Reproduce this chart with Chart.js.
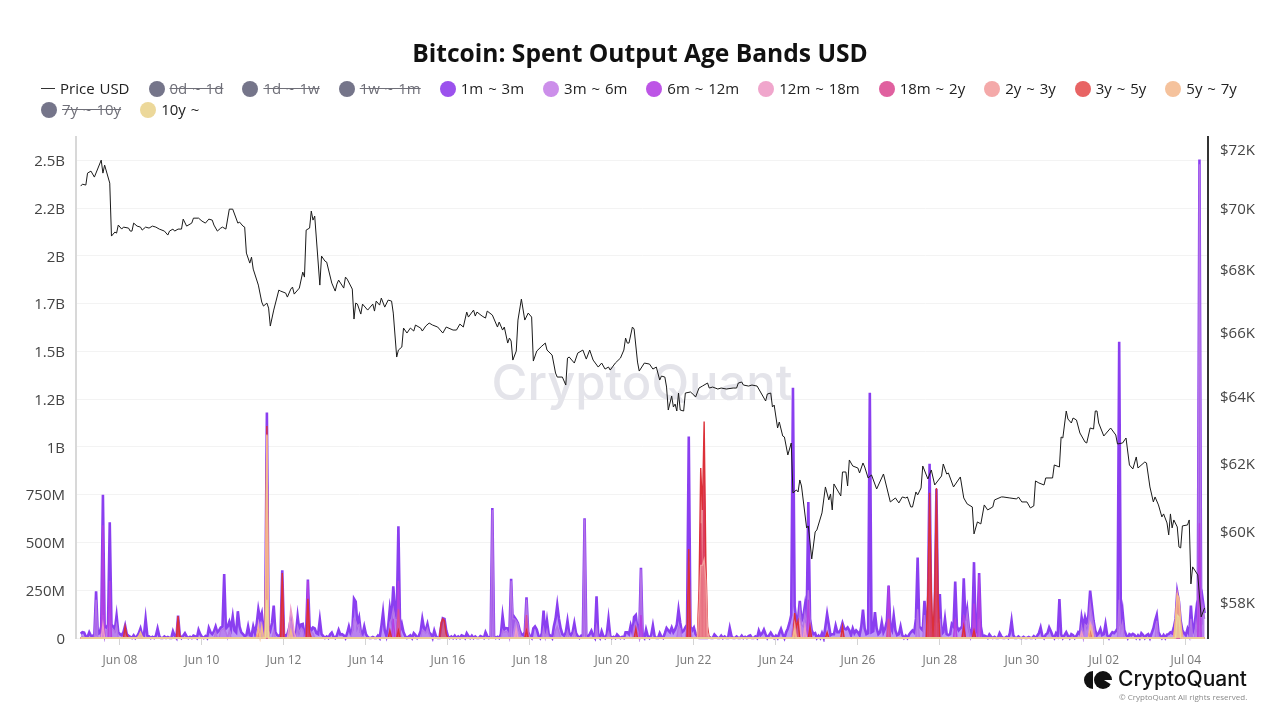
<!DOCTYPE html>
<html>
<head>
<meta charset="utf-8">
<title>Bitcoin: Spent Output Age Bands USD</title>
<script src="https://cdn.jsdelivr.net/npm/chart.js@4"></script>
<style>
  html, body { margin: 0; padding: 0; background: #fff; }
  #wrap { position: relative; width: 1280px; height: 720px; overflow: hidden; }
  #legend {
    position: absolute; left: 41px; top: 78px; width: 1225px;
    display: flex; flex-wrap: wrap; column-gap: 19px;
    font: 15px/21px "Open Sans", sans-serif; word-spacing: 1px; color: #222;
  }
  .item { display: flex; align-items: center; height: 21px; white-space: nowrap; }
  .dot { width: 16px; height: 16px; border-radius: 50%; margin-right: 5px; }
  .dash { width: 14px; height: 1px; background: #333; margin-right: 5px; }
  .off { color: #6f6f78; text-decoration: line-through; }
</style>
</head>
<body>
<div id="wrap">
  <canvas id="chart1" width="1280" height="720"></canvas>
  <div id="legend"></div>
</div>
<script>
// hours are counted from Jun 07 00:00, band values are USD millions
const xTickHours = [24, 72, 120, 168, 216, 264, 312, 360, 408, 456, 504, 552, 600, 648];
const xTickLabels = ['Jun 08', 'Jun 10', 'Jun 12', 'Jun 14', 'Jun 16', 'Jun 18', 'Jun 20', 'Jun 22', 'Jun 24', 'Jun 26', 'Jun 28', 'Jun 30', 'Jul 02', 'Jul 04'];
const yTickValues = [0, 250, 500, 750, 1000, 1250, 1500, 1750, 2000, 2250, 2500];
const yTickLabels = ['0', '250M', '500M', '750M', '1B', '1.2B', '1.5B', '1.7B', '2B', '2.2B', '2.5B'];
const priceTickValues = [58000, 60000, 62000, 64000, 66000, 68000, 70000, 72000];
const priceTickLabels = ['$58K', '$60K', '$62K', '$64K', '$66K', '$68K', '$70K', '$72K'];

const priceUsd = [[1,70775],[2,70840],[4,70810],[5,71215],[7,71283],[9,71080],[13,71657],[14,71215],[15,71487],[18,70875],[19,69106],[21,69238],[22,69205],[23,69470],[25,69337],[26,69403],[29,69370],[30,69271],[31,69271],[32,69535],[34,69436],[36,69403],[37,69304],[39,69403],[41,69370],[43,69436],[45,69403],[47,69337],[50,69271],[52,69139],[53,69271],[55,69337],[56,69271],[58,69337],[60,69337],[61,69668],[63,69436],[66,69535],[67,69700],[70,69700],[72,69602],[74,69535],[76,69668],[78,69635],[79,69470],[81,69271],[83,69370],[84,69403],[86,69337],[88,70000],[90,70000],[93,69535],[94,69569],[96,69436],[97,69403],[98,68547],[100,68220],[101,68415],[102,68025],[105,67508],[107,66962],[108,66835],[110,66930],[111,66770],[112,66200],[114,66707],[117,67347],[118,67315],[121,67251],[122,67122],[124,67379],[125,67444],[126,67218],[129,67411],[131,67928],[132,67766],[133,69304],[135,69370],[136,69935],[137,69635],[138,69768],[141,67508],[142,68449],[144,68285],[145,68253],[148,67572],[150,67315],[151,67540],[152,67669],[155,67411],[156,67766],[157,67701],[160,67379],[161,66422],[162,66930],[163,66898],[165,66580],[166,66898],[169,66707],[172,66898],[173,66675],[174,66994],[176,66866],[177,67090],[179,66802],[181,67026],[183,66994],[184,66612],[186,65228],[187,65446],[189,65540],[190,66137],[192,65980],[194,66137],[196,66043],[197,66232],[200,66137],[201,66043],[203,66200],[205,66295],[207,66232],[210,66169],[213,65980],[215,66169],[219,66074],[221,66074],[223,66263],[225,66169],[227,66644],[228,66485],[231,66707],[232,66517],[233,66644],[236,66517],[238,66453],[239,66675],[242,66549],[245,66169],[246,66327],[248,66074],[249,66169],[251,65665],[252,65822],[253,65728],[254,65134],[256,65415],[257,66390],[259,67058],[261,66390],[263,66612],[265,66485],[266,65103],[268,65415],[271,65571],[273,65665],[274,65446],[277,65290],[279,64732],[280,64608],[283,64608],[285,64362],[286,65196],[287,65228],[290,65041],[292,65352],[295,65446],[297,65165],[299,65446],[301,65134],[304,64917],[306,65041],[308,64855],[310,64917],[311,64824],[314,65041],[317,65196],[319,65446],[320,65822],[321,65665],[322,65665],[324,66169],[325,66106],[327,65072],[328,64793],[331,65041],[334,65010],[336,64855],[338,64917],[340,64516],[341,64639],[343,64608],[344,64300],[345,63599],[347,64025],[348,63690],[349,63781],[350,63569],[351,64117],[352,63599],[354,63569],[355,64117],[358,64148],[360,64056],[361,63995],[363,64270],[365,64331],[368,64424],[369,64270],[371,64300],[374,64240],[376,64270],[379,64240],[383,64270],[385,64270],[386,64424],[388,64455],[389,64362],[392,64331],[394,64362],[397,64331],[399,64148],[402,63873],[403,64087],[405,64117],[406,63690],[407,63750],[409,63055],[410,63236],[412,62815],[413,62785],[415,62248],[417,62605],[418,61130],[420,61217],[421,61159],[422,61510],[423,61334],[426,60117],[427,60175],[429,59234],[431,60003],[432,60060],[435,60550],[437,61305],[439,60926],[440,61100],[441,60636],[442,61393],[446,61042],[447,61745],[449,61745],[450,61334],[451,62100],[453,61922],[456,61863],[457,61716],[459,62011],[460,61893],[462,61569],[464,61657],[467,61246],[471,61686],[473,61275],[475,60868],[478,60984],[480,60839],[482,61013],[484,60984],[485,61013],[487,60723],[488,60723],[490,61159],[491,61072],[493,61275],[494,61922],[497,61540],[499,61804],[501,61363],[505,61628],[506,61981],[508,61686],[509,61716],[512,61305],[516,61598],[518,60984],[520,60810],[523,60723],[524,59946],[526,60290],[528,60232],[530,60781],[532,60636],[535,60723],[536,60926],[540,61013],[541,61013],[545,60984],[549,60955],[550,61013],[552,60868],[555,60868],[557,60694],[559,60752],[560,61481],[562,61422],[565,61363],[566,61569],[570,61569],[571,61952],[574,61893],[575,62785],[576,62755],[578,63569],[579,63326],[581,63206],[582,63357],[584,63296],[586,62905],[589,62635],[590,62605],[592,63055],[594,63025],[595,63569],[596,63569],[597,63206],[600,62815],[604,63055],[607,62845],[608,62576],[611,62605],[613,62755],[615,61952],[617,61834],[619,62189],[620,61863],[624,62040],[625,62011],[627,61305],[629,60868],[630,61013],[632,60781],[634,60434],[635,60521],[637,60261],[638,59917],[639,60521],[640,60118],[641,60347],[643,60146],[644,59575],[645,59546],[646,60175],[649,60203],[650,60347],[651,58532],[652,59010],[655,58785],[657,57618],[659,57865]];

const band1m3m = [[1,22],[2,30],[3,28],[4,8],[5,6],[6,30],[7,12],[8,10],[9,18],[10,245],[11,20],[12,25],[13,60],[14,750],[15,60],[16,55],[17,70],[18,606],[19,70],[20,60],[21,45],[22,117],[23,30],[24,20],[25,15],[26,30],[27,65],[28,20],[29,12],[30,6],[32,14],[34,10],[35,25],[36,50],[37,15],[38,12],[39,100],[40,12],[41,8],[43,6],[45,12],[46,50],[47,10],[50,8],[52,5],[55,35],[56,12],[58,117],[59,15],[61,12],[62,25],[63,8],[65,6],[67,12],[68,8],[70,42],[71,20],[72,6],[74,10],[76,52],[77,30],[78,20],[79,35],[80,60],[81,30],[82,40],[83,55],[84,60],[85,335],[86,50],[87,60],[88,85],[89,50],[90,112],[91,40],[92,30],[93,140],[94,60],[95,30],[96,20],[97,10],[98,15],[99,60],[100,15],[101,12],[102,60],[103,25],[104,70],[105,150],[106,100],[107,130],[108,40],[109,60],[110,1180],[111,60],[112,40],[113,80],[114,170],[115,30],[116,15],[117,10],[118,20],[119,355],[120,20],[121,10],[122,20],[123,50],[124,100],[125,40],[126,15],[127,20],[128,113],[129,40],[130,70],[131,73],[132,20],[133,40],[134,306],[135,60],[136,40],[137,55],[138,50],[139,25],[140,20],[141,96],[142,20],[143,10],[145,8],[147,18],[148,28],[149,8],[151,14],[152,42],[153,18],[154,20],[155,14],[157,25],[158,60],[159,25],[160,40],[161,205],[162,190],[163,70],[164,105],[165,30],[166,20],[167,60],[168,20],[169,6],[172,5],[175,12],[177,60],[178,135],[179,40],[180,10],[181,60],[182,157],[183,100],[184,270],[185,150],[186,100],[187,585],[188,40],[189,73],[190,30],[191,10],[193,8],[194,14],[196,25],[197,15],[199,12],[200,35],[201,100],[202,50],[203,40],[204,73],[205,30],[206,20],[208,38],[209,10],[212,60],[213,103],[214,100],[215,40],[216,10],[218,8],[220,12],[222,8],[224,14],[225,10],[227,25],[228,10],[230,12],[232,8],[235,10],[236,6],[238,30],[239,10],[241,8],[242,680],[243,10],[245,6],[247,20],[248,117],[249,45],[250,52],[251,50],[252,30],[253,310],[254,60],[255,108],[256,95],[257,78],[258,40],[259,20],[260,15],[261,30],[262,213],[263,30],[264,10],[266,50],[267,60],[268,45],[269,12],[271,25],[272,143],[273,20],[274,90],[275,20],[276,12],[278,60],[279,100],[280,173],[281,100],[282,50],[283,20],[284,12],[285,30],[286,90],[287,25],[288,15],[289,30],[290,78],[291,25],[292,10],[294,12],[295,15],[296,627],[297,12],[298,8],[299,20],[300,38],[301,12],[303,218],[304,12],[306,35],[307,10],[309,20],[310,100],[311,12],[313,6],[315,18],[316,8],[318,6],[320,30],[321,30],[322,20],[323,65],[324,30],[325,110],[326,120],[327,40],[328,20],[329,368],[330,12],[332,44],[333,10],[335,15],[336,65],[337,10],[340,25],[341,6],[343,25],[344,52],[345,40],[346,30],[347,55],[348,30],[349,45],[350,70],[351,148],[352,80],[353,30],[354,38],[355,55],[356,70],[357,1055],[358,60],[359,40],[360,55],[361,20],[362,8],[369,6],[372,18],[373,8],[376,12],[378,8],[381,52],[382,10],[385,8],[388,12],[390,6],[392,10],[393,14],[396,8],[398,38],[399,15],[400,25],[401,44],[402,20],[404,14],[405,28],[406,14],[408,12],[410,25],[411,47],[412,20],[414,30],[415,50],[416,80],[417,120],[418,1310],[419,166],[420,90],[421,100],[422,195],[423,90],[424,110],[425,170],[426,80],[427,712],[428,100],[429,40],[430,20],[431,25],[433,12],[435,25],[437,60],[438,126],[439,70],[440,15],[441,20],[442,20],[443,65],[444,30],[445,30],[446,45],[447,78],[448,50],[449,45],[450,55],[451,40],[452,15],[453,50],[454,25],[455,40],[456,30],[457,15],[458,60],[459,148],[460,50],[461,20],[462,25],[463,1284],[464,30],[465,35],[466,135],[467,50],[468,20],[469,30],[470,82],[471,30],[472,50],[473,90],[474,274],[475,60],[476,40],[477,117],[478,40],[479,15],[480,20],[481,60],[482,15],[484,12],[486,18],[487,30],[488,40],[489,30],[490,100],[491,421],[492,60],[493,50],[494,40],[495,195],[496,80],[497,130],[498,912],[499,60],[500,60],[501,120],[502,780],[503,80],[504,230],[505,20],[506,30],[507,100],[508,20],[509,15],[510,20],[511,73],[512,60],[513,295],[514,60],[515,40],[516,50],[517,60],[518,313],[519,90],[520,148],[521,50],[522,15],[523,60],[524,397],[525,30],[526,50],[527,340],[528,60],[529,10],[530,12],[531,8],[533,18],[534,6],[536,6],[539,25],[540,8],[543,6],[545,25],[546,90],[547,15],[550,8],[553,6],[556,5],[559,10],[561,12],[562,25],[563,55],[564,12],[566,18],[567,25],[568,55],[569,35],[570,12],[572,25],[573,12],[574,204],[575,20],[577,15],[578,30],[579,12],[581,20],[582,15],[584,12],[585,30],[586,20],[587,108],[588,60],[589,108],[590,70],[591,120],[592,248],[593,170],[594,90],[595,40],[596,15],[597,25],[598,47],[599,15],[600,20],[601,73],[602,15],[604,18],[605,30],[606,25],[607,35],[608,50],[609,1551],[610,60],[611,138],[612,40],[613,18],[615,20],[616,14],[617,22],[618,16],[620,14],[622,25],[623,16],[625,15],[626,20],[628,25],[629,50],[630,90],[631,120],[632,30],[633,14],[635,15],[637,18],[638,20],[639,30],[640,25],[641,55],[642,100],[643,240],[644,190],[645,90],[646,40],[647,25],[648,15],[649,47],[650,20],[651,170],[652,30],[653,60],[654,135],[655,30],[656,2505],[657,70],[658,195],[659,130]];

const band3m6m = [[2,8],[10,200],[14,120],[16,40],[17,50],[18,120],[19,50],[20,45],[21,30],[22,70],[80,30],[83,40],[84,45],[85,50],[86,30],[88,40],[106,70],[107,80],[114,40],[124,90],[128,60],[129,30],[130,50],[131,45],[135,40],[136,30],[137,25],[160,30],[161,100],[162,90],[163,60],[164,70],[165,20],[182,80],[183,100],[184,150],[185,100],[186,60],[187,200],[188,30],[201,40],[202,35],[203,25],[204,50],[205,20],[242,670],[248,40],[249,30],[250,35],[251,30],[253,300],[254,100],[255,100],[256,90],[257,75],[258,30],[262,200],[263,30],[272,50],[274,40],[279,40],[280,60],[281,30],[286,35],[290,35],[296,620],[303,60],[310,30],[325,60],[326,80],[327,40],[329,360],[351,60],[352,50],[356,60],[357,400],[358,50],[418,70],[419,100],[420,60],[421,50],[422,150],[423,70],[424,60],[425,130],[426,60],[427,250],[428,90],[491,150],[495,120],[498,300],[504,100],[518,100],[519,70],[520,130],[521,50],[524,120],[527,100],[587,60],[589,70],[590,60],[591,80],[592,180],[593,120],[594,70],[609,200],[610,40],[611,80],[631,90],[651,100],[654,80],[656,2480],[657,60],[658,170],[659,100]];

const band6m12m = [[14,590],[18,300],[119,200],[134,300],[184,100],[187,300],[329,120],[427,200],[474,274],[513,100],[518,120],[524,180],[527,330],[357,200],[656,600]];

const band12m18m = [[14,70],[105,70],[123,60],[124,155],[125,100],[126,30],[256,50],[419,70],[422,80],[425,60],[587,30],[592,80],[593,60]];

const band18m2y = [[58,110],[119,300],[134,200],[187,150],[262,120],[357,300],[364,600],[366,900],[474,100],[498,500],[502,500]];

const band2y3y = [[110,1060],[363,150],[364,380],[365,380],[366,410],[367,300],[368,30],[419,70],[642,90],[643,235],[644,190],[645,70]];

const band3y5y = [[27,60],[28,15],[58,115],[59,10],[105,40],[110,1110],[119,340],[134,205],[135,30],[182,40],[187,40],[212,80],[213,100],[214,90],[215,20],[262,40],[326,50],[357,466],[363,250],[364,890],[365,670],[366,1133],[367,400],[368,60],[419,130],[420,60],[421,90],[428,60],[438,30],[447,60],[497,250],[498,760],[499,250],[501,250],[502,785],[503,200],[518,60],[524,40],[592,40],[642,80],[643,210],[644,180],[645,60]];

const band5y7y = [[35,10],[36,30],[37,8],[105,50],[107,60],[110,1065],[124,40],[419,40],[592,60],[593,30],[642,100],[643,225],[644,210],[645,80]];

const band10y = [[110,200],[643,120],[644,110]];

const bandNames = ['0d ~ 1d', '1d ~ 1w', '1w ~ 1m', '1m ~ 3m', '3m ~ 6m', '6m ~ 12m', '12m ~ 18m', '18m ~ 2y', '2y ~ 3y', '3y ~ 5y', '5y ~ 7y', '7y ~ 10y', '10y ~'];
const bandColors = ['#75758a', '#75758a', '#75758a', '#8a3ff0', '#b473e8', '#b53fe2', '#ee9cc8', '#da4f96', '#f29c9c', '#dc3038', '#f4b98c', '#75758a', '#ecd89a'];
const legendDots = ['#75758a', '#75758a', '#75758a', '#9b51ed', '#cc8fea', '#bd55e6', '#f0a6cc', '#e0609f', '#f4a9a9', '#e86464', '#f5c29c', '#75758a', '#ecd89a'];
const bandValues = [[], [], [], band1m3m, band3m6m, band6m12m, band12m18m, band18m2y, band2y3y, band3y5y, band5y7y, [], band10y];
// drawing depth of each band, lowest number is on top
const bandDepth = [13, 12, 11, 10, 9, 8, 7, 6, 3, 5, 2, 4, 1];

// hours that are not listed had no reading above the baseline
function hourlyPoints(pairs) {
  const lookup = new Map(pairs);
  const points = [];
  for (let hour = 1; hour <= 659; hour++) {
    points.push({ x: hour, y: lookup.get(hour) || 0 });
  }
  return points;
}

function alpha(color, a) {
  const n = parseInt(color.slice(1), 16);
  return `rgba(${n >> 16},${(n >> 8) & 255},${n & 255},${a})`;
}

const datasets = [
  {
    label: 'Price USD',
    data: priceUsd.map(p => ({ x: p[0], y: p[1] })),
    yAxisID: 'price',
    borderColor: '#1a1a1a',
    borderWidth: 1,
    pointRadius: 0,
    fill: false,
    order: 0,
  },
];
bandNames.forEach((name, i) => {
  datasets.push({
    label: name,
    data: bandValues[i].length ? hourlyPoints(bandValues[i]) : [],
    yAxisID: 'y',
    hidden: bandValues[i].length === 0,
    borderColor: bandColors[i],
    backgroundColor: alpha(bandColors[i], 0.55),
    borderWidth: i === 3 ? 2.6 : 1.4,
    pointRadius: 0,
    fill: 'origin',
    clip: 4,
    order: bandDepth[i],
  });
});

// legend row, crossed out names are the switched off bands
const legendBox = document.getElementById('legend');
datasets.forEach((ds, i) => {
  const item = document.createElement('div');
  item.className = 'item';
  const mark = document.createElement('span');
  const text = document.createElement('span');
  text.textContent = ds.label;
  if (i === 0) {
    mark.className = 'dash';
  } else {
    mark.className = 'dot';
    mark.style.background = legendDots[i - 1];
    if (ds.hidden) text.className = 'off';
  }
  item.appendChild(mark);
  item.appendChild(text);
  legendBox.appendChild(item);
});

const brandMarks = {
  id: 'brandMarks',
  beforeDatasetsDraw(chart) {
    const ctx = chart.ctx;
    ctx.save();
    ctx.font = '500 49px Inter, sans-serif';
    ctx.fillStyle = '#e4e4ea';
    ctx.textAlign = 'center';
    ctx.textBaseline = 'middle';
    ctx.fillText('CryptoQuant', 642, 385);
    ctx.restore();
  },
  afterDraw(chart) {
    const ctx = chart.ctx;
    ctx.save();
    ctx.fillStyle = '#111';
    ctx.beginPath();
    ctx.arc(1093, 680, 9, Math.PI / 2, Math.PI * 1.5);
    ctx.fill();
    ctx.beginPath();
    ctx.arc(1103, 680, 9, 0, Math.PI * 2);
    ctx.fill();
    ctx.fillStyle = '#fff';
    ctx.beginPath();
    ctx.moveTo(1104, 680);
    ctx.lineTo(1112, 680);
    ctx.lineTo(1112, 685);
    ctx.closePath();
    ctx.fill();
    ctx.fillStyle = '#111';
    ctx.font = '500 21px Inter, sans-serif';
    ctx.textBaseline = 'middle';
    ctx.fillText('CryptoQuant', 1118, 680);
    ctx.fillStyle = '#8a8a8a';
    ctx.font = '8px "Open Sans", sans-serif';
    ctx.fillText('© CryptoQuant All rights reserved.', 1119, 698);
    ctx.restore();
  },
};

new Chart(document.getElementById('chart1'), {
  type: 'line',
  data: { datasets },
  plugins: [brandMarks],
  options: {
    responsive: false,
    animation: false,
    spanGaps: true,
    layout: { padding: 0 },
    scales: {
      x: {
        type: 'linear',
        min: -1.76,
        max: 661,
        afterFit(scale) { scale.height = 82; },
        afterBuildTicks(scale) { scale.ticks = xTickHours.map(value => ({ value })); },
        border: { display: false },
        grid: { drawOnChartArea: false, drawTicks: true, tickLength: 7, tickColor: '#d4d4d4' },
        ticks: {
          autoSkip: false,
          maxRotation: 0,
          padding: 8,
          color: '#777',
          font: { size: 12, family: "'Open Sans', sans-serif" },
          callback: value => xTickLabels[xTickHours.indexOf(value)],
        },
      },
      y: {
        type: 'linear',
        position: 'left',
        min: 0,
        max: 2625,
        afterFit(scale) { scale.width = 76; },
        afterBuildTicks(scale) { scale.ticks = yTickValues.map(value => ({ value })); },
        border: { color: '#d8d8d8', width: 2 },
        grid: { color: '#f3f3f3', drawTicks: false },
        ticks: {
          padding: 11,
          labelOffset: 1.5,
          color: '#444',
          font: { size: 15, family: "'Open Sans', sans-serif" },
          callback: value => yTickLabels[yTickValues.indexOf(value)],
        },
      },
      price: {
        type: 'logarithmic',
        position: 'right',
        min: 57040,
        max: 72470,
        afterFit(scale) { scale.width = 72; },
        afterBuildTicks(scale) { scale.ticks = priceTickValues.map(value => ({ value })); },
        border: { color: '#333', width: 2 },
        grid: { drawOnChartArea: false, drawTicks: false },
        ticks: {
          padding: 12,
          labelOffset: 1,
          color: '#444',
          font: { size: 15, family: "'Open Sans', sans-serif" },
          callback: value => priceTickLabels[priceTickValues.indexOf(value)],
        },
      },
    },
    plugins: {
      legend: { display: false },
      tooltip: { enabled: false },
      title: {
        display: true,
        text: 'Bitcoin: Spent Output Age Bands USD',
        color: '#111',
        font: { size: 24.6, weight: 'bold', family: "'Open Sans', sans-serif" },
        padding: { top: 40, bottom: 67 },
      },
    },
  },
});
</script>
</body>
</html>
